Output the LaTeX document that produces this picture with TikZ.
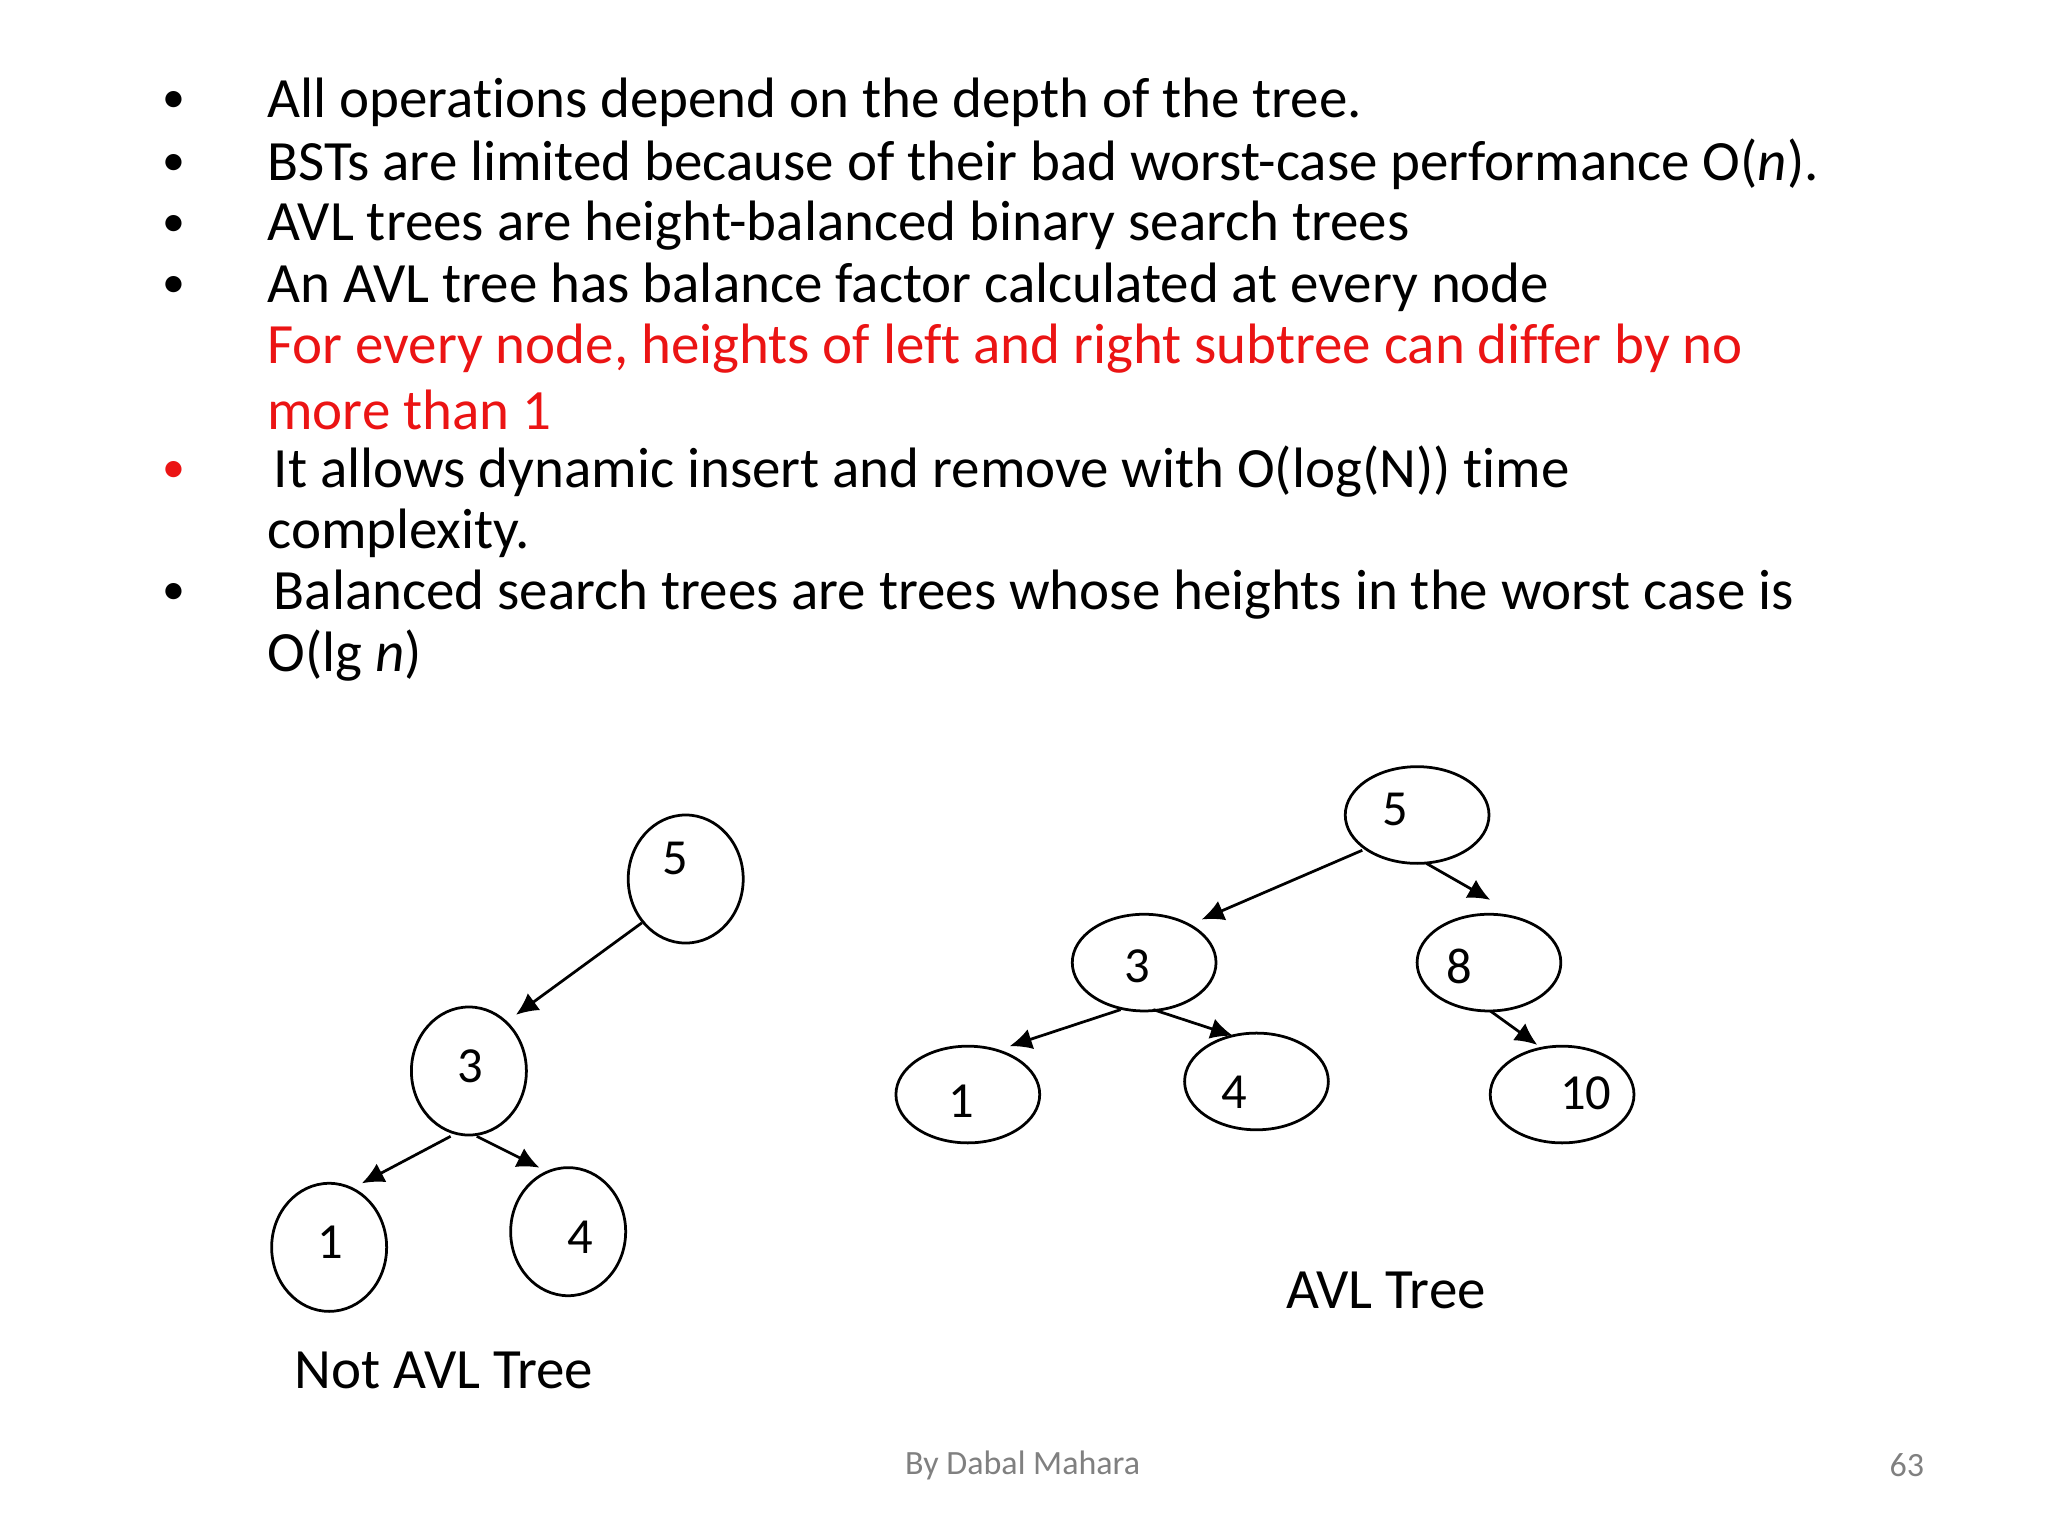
\documentclass[tikz,border=0pt]{standalone}
\usepackage{fontspec}
\setmainfont[Ligatures=NoCommon]{Carlito}
\usetikzlibrary{arrows.meta,shapes.geometric}
\begin{document}
\begin{tikzpicture}[x=0.01cm,y=-0.01cm,
  txt/.style={anchor=west,inner sep=0,font=\fontsize{12.4pt}{14pt}\selectfont},
  bul/.style={inner sep=0,font=\fontsize{10pt}{12pt}\selectfont},
  tn/.style={draw,ellipse,line width=0.6pt,inner sep=0},
  lbl/.style={inner sep=0,font=\fontsize{11pt}{13pt}\selectfont},
  arr/.style={line width=0.6pt,-{Latex[length=1.7mm,width=1.6mm]}}]
\useasboundingbox (0,0) rectangle (1568,1176);
\definecolor{myred}{RGB}{235,20,20}
\foreach \y in {78,126,173,220,455} \node[bul] at (133,\y) {•};
\node[bul,text=myred] at (133,361) {•};
\node[txt] (t1) at (204,78) {All operations depend on the depth of the tree.};
\node[txt] (t2) at (204,126) {BSTs are limited because of their bad worst-case performance O(\textit{n}).};
\node[txt] (t3) at (204,173) {AVL trees are height-balanced binary search trees};
\node[txt] (t4) at (204,220) {An AVL tree has balance factor calculated at every node};
\node[txt,text=myred] (t5) at (204,267) {For every node, heights of left and right subtree can differ by no};
\node[txt,text=myred] (t6) at (204,314) {more than 1};
\node[txt] (t7) at (209,361) {It allows dynamic insert and remove with O(log(N)) time};
\node[txt] (t8) at (204,408) {complexity.};
\node[txt] (t9) at (209,455) {Balanced search trees are trees whose heights in the worst case is};
\node[txt] (t10) at (204,502) {O(lg \textit{n})};
% left tree
\node[tn,minimum width=0.88cm,minimum height=0.98cm] (a5) at (525,673) {};
\node[tn,minimum width=0.88cm,minimum height=0.98cm] (a3) at (359,820) {};
\node[tn,minimum width=0.88cm,minimum height=0.98cm] (a1) at (252,955) {};
\node[tn,minimum width=0.88cm,minimum height=0.98cm] (a4) at (435,943) {};
\node[lbl] at (517,657) {5};
\node[lbl] at (360,816) {3};
\node[lbl] at (253,951) {1};
\node[lbl] at (444,947) {4};
\draw[arr] (a5.225) -- (395,777);
\draw[arr] (345,870) -- (277,906);
\draw[arr] (365,870) -- (413,894);
\node[txt] at (225,1049) {Not AVL Tree};
% right tree
\node[tn,minimum width=1.1cm,minimum height=0.74cm] (b5) at (1085,624) {};
\node[tn,minimum width=1.1cm,minimum height=0.74cm] (b3) at (876,737) {};
\node[tn,minimum width=1.1cm,minimum height=0.74cm] (b8) at (1140,737) {};
\node[tn,minimum width=1.1cm,minimum height=0.74cm] (b1) at (741,838) {};
\node[tn,minimum width=1.1cm,minimum height=0.74cm] (b4) at (962,828) {};
\node[tn,minimum width=1.1cm,minimum height=0.74cm] (b10) at (1196,838) {};
\node[lbl] at (1068,620) {5};
\node[lbl] at (871,740) {3};
\node[lbl] at (1117,740) {8};
\node[lbl] at (736,843) {1};
\node[lbl] at (945,836) {4};
\node[lbl] at (1214,837) {10};
\draw[arr] (1043,651) -- (920,704);
\draw[arr] (1092,661) -- (1141,689);
\draw[arr] (858,773) -- (773,801);
\draw[arr] (883,773) -- (944,793);
\draw[arr] (1141,774) -- (1177,800);
\node[txt] at (984,988) {AVL Tree};
\node[inner sep=0,text=gray,font=\fontsize{7.4pt}{8pt}\selectfont] at (783,1122) {By Dabal Mahara};
\node[inner sep=0,text=gray,font=\fontsize{7.4pt}{8pt}\selectfont] at (1460,1122) {63};
\end{tikzpicture}
\end{document}
